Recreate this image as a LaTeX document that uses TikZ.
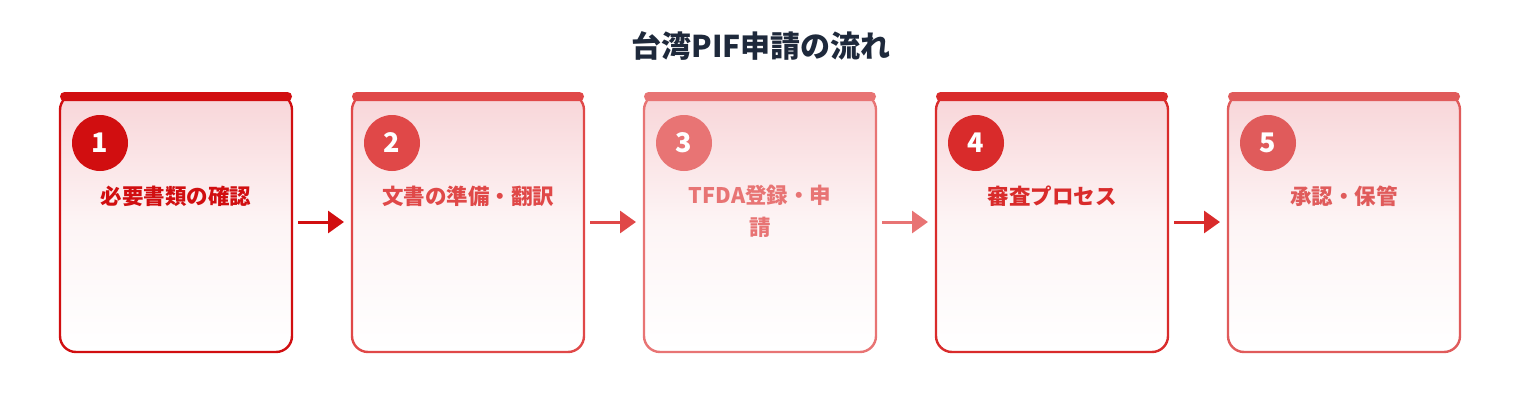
\documentclass[tikz,border=0pt]{standalone}
\usepackage{fontspec}
\setmainfont{Noto Sans CJK JP}
\usetikzlibrary{arrows.meta}
\definecolor{cA}{HTML}{D10E10}
\definecolor{cB}{HTML}{E04848}
\definecolor{cC}{HTML}{E87474}
\definecolor{cD}{HTML}{D92B2B}
\definecolor{cE}{HTML}{E05B5B}
\definecolor{titlec}{HTML}{1E293B}
\definecolor{topfill}{HTML}{F8D5D8}
\tikzset{
  card/.style={rounded corners=16pt, line width=2.4pt, top color=topfill, bottom color=white, middle color=topfill!25!white},
  topbar/.style={rounded corners=4.5pt},
  badge/.style={circle, minimum size=56pt, inner sep=0pt, text=white, font=\fontsize{27}{27}\selectfont\bfseries},
  lbl/.style={align=center, font=\fontsize{21.5}{32}\selectfont\bfseries},
  flow/.style={line width=3pt, -{Triangle[length=16pt,width=22pt]}},
}
\begin{document}
\begin{tikzpicture}[x=1pt,y=-1pt]
\useasboundingbox (0,0) rectangle (1520,420);
\node[font=\fontsize{30}{30}\selectfont\bfseries, text=titlec] (title) at (761,46) {台湾PIF申請の流れ};
\foreach \i/\c/\t in {1/cA/必要書類の確認, 2/cB/文書の準備・翻訳, 3/cC/{TFDA登録・申\\請}, 4/cD/審査プロセス, 5/cE/承認・保管}{
  \pgfmathsetmacro{\xl}{60+292*(\i-1)}
  \draw[card, draw=\c] (\xl,94) rectangle ++(232,258);
  \fill[topbar, \c] (\xl,92) rectangle ++(232,9);
  \node[badge, fill=\c] (b\i) at (\xl+40,143) {\i};
  \node[lbl, text=\c, anchor=north] (l\i) at (\xl+116,182) {\t};
  \coordinate (L\i) at (\xl,222);
  \coordinate (R\i) at (\xl+232,222);
}
\draw[flow, cA] ([xshift=6pt]R1) -- ([xshift=-8pt]L2);
\draw[flow, cB] ([xshift=6pt]R2) -- ([xshift=-8pt]L3);
\draw[flow, cC] ([xshift=6pt]R3) -- ([xshift=-8pt]L4);
\draw[flow, cD] ([xshift=6pt]R4) -- ([xshift=-8pt]L5);
\end{tikzpicture}
\end{document}
